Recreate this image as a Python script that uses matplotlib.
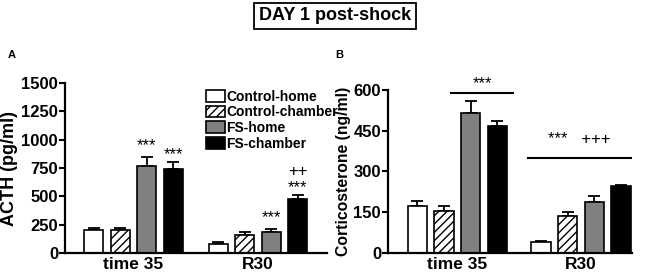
import matplotlib
matplotlib.use("Agg")
import matplotlib.pyplot as plt
import numpy as np

plt.rcParams['font.family'] = ['Liberation Sans', 'DejaVu Sans']
plt.rcParams['font.weight'] = 'bold'
plt.rcParams['hatch.linewidth'] = 1.0

groups = ["time 35", "R30"]
series = ["Control-home", "Control-chamber", "FS-home", "FS-chamber"]
acth_mean = {"Control-home": [203, 82], "Control-chamber": [200, 162],
             "FS-home": [765, 185], "FS-chamber": [745, 476]}
acth_err = {"Control-home": [20, 15], "Control-chamber": [25, 23],
            "FS-home": [80, 30], "FS-chamber": [62, 36]}
cort_mean = {"Control-home": [173, 38], "Control-chamber": [155, 137],
             "FS-home": [517, 186], "FS-chamber": [466, 247]}
cort_err = {"Control-home": [18, 5], "Control-chamber": [18, 12],
            "FS-home": [43, 23], "FS-chamber": [19, 2]}
acth_ticks = [0, 250, 500, 750, 1000, 1250, 1500]
cort_ticks = [0, 150, 300, 450, 600]

colors = {"Control-home": "white", "Control-chamber": "white",
          "FS-home": "#808080", "FS-chamber": "black"}
hatches = {"Control-home": None, "Control-chamber": "////",
           "FS-home": None, "FS-chamber": None}

W, H = 645, 277
fig = plt.figure(figsize=(W / 100, H / 100), dpi=100)

def fr(l, r, t, b):
    return [l / W, 1 - b / H, (r - l) / W, (b - t) / H]

axA = fig.add_axes(fr(65, 327, 83, 253))
axB = fig.add_axes(fr(388, 632, 90, 252.7))

def draw(ax, means, errs, gap, xlim, ylim, ticks, ylabel, ylsize):
    centers = np.array([0, gap])
    offs = [-1.5, -0.5, 0.5, 1.5]
    for s, o in zip(series, offs):
        ax.bar(centers + o, means[s], width=0.72, color=colors[s],
               edgecolor="black", linewidth=1.2, hatch=hatches[s],
               label=s, zorder=2)
        ax.errorbar(centers + o, means[s], yerr=[np.zeros(2), errs[s]],
                    fmt="none", ecolor="black", elinewidth=1.3,
                    capsize=4, capthick=1.3, zorder=1)
    ax.set_xlim(*xlim)
    ax.set_ylim(*ylim)
    ax.set_yticks(ticks)
    ax.set_xticks(centers)
    ax.set_xticklabels(groups, fontsize=12.5, fontweight="bold")
    ax.tick_params(axis="x", length=0, pad=3)
    ax.tick_params(axis="y", length=4, width=1.5, labelsize=12, pad=1)
    for lab in ax.get_yticklabels():
        lab.set_fontweight("bold")
    for sp in ["top", "right"]:
        ax.spines[sp].set_visible(False)
    for sp in ["left", "bottom"]:
        ax.spines[sp].set_linewidth(1.6)
    ax.set_ylabel(ylabel, fontsize=ylsize, fontweight="bold", labelpad=2)
    return centers

cA = draw(axA, acth_mean, acth_err, 4.7, (-2.585, 7.30), (0, 1500),
          acth_ticks, "ACTH (pg/ml)", 13)
cB = draw(axB, cort_mean, cort_err, 4.63, (-2.60, 6.54), (0, 600),
          cort_ticks, "Corticosterone (ng/ml)", 11.3)

# annotations panel A
st = dict(ha="center", va="center", fontsize=12, fontweight="normal")
axA.text(cA[0] + 0.5, 950, "***", **st)
axA.text(cA[0] + 1.5, 870, "***", **st)
axA.text(cA[1] + 0.5, 308, "***", **st)
axA.text(cA[1] + 1.5, 573, "***", **st)
axA.text(cA[1] + 1.5, 720, "++", **st)

# annotations panel B
axB.plot([cB[0] - 0.25, cB[0] + 2.1], [590, 590], color="black", lw=1.5,
         clip_on=False)
axB.text(cB[0] + 0.95, 625, "***", **st)
axB.plot([cB[1] - 2.0, cB[1] + 1.9], [349, 349], color="black", lw=1.5)
axB.text(cB[1] - 0.05, 416, "***   +++", **st)

leg = axA.legend(loc="upper left", bbox_to_anchor=(0.506, 1.01),
                 frameon=False, handlelength=1.37, handleheight=0.9,
                 labelspacing=0.12, handletextpad=0.1, borderpad=0.1,
                 prop={"weight": "bold", "size": 10})

fig.text(8 / W, 1 - 55 / H, "A", fontsize=8, fontweight="bold",
         ha="left", va="center")
fig.text(335 / W, 1 - 55 / H, "B", fontsize=8, fontweight="bold",
         ha="left", va="center")
fig.text(335 / W, 1 - 16 / H, "DAY 1 post-shock", fontsize=13,
         fontweight="bold", ha="center", va="center",
         bbox=dict(boxstyle="square,pad=0.25", fc="white", ec="black",
                   lw=1.3))

fig.savefig("out.png", dpi=100)
